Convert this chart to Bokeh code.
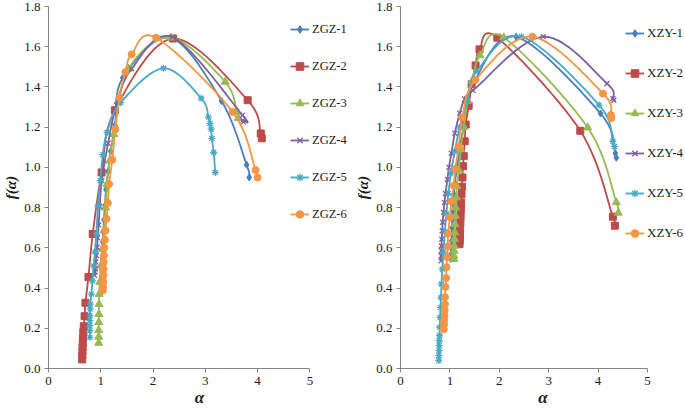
import numpy as np
from bokeh.plotting import figure
from bokeh.layouts import row
from bokeh.models import Range1d, FixedTicker, NumeralTickFormatter, Legend, LegendItem
from bokeh.embed import file_html
from bokeh.resources import INLINE

# ---------------- data ----------------
zgz_labels = ["ZGZ-1", "ZGZ-2", "ZGZ-3", "ZGZ-4", "ZGZ-5", "ZGZ-6"]
zgz1_a = [1.02, 1.022, 1.025, 1.03, 1.035, 1.04, 1.05, 1.06, 1.08, 1.10, 1.14, 1.19, 1.27, 1.42, 2.33, 3.31, 3.79, 3.84]
zgz1_f = [0.46, 0.49, 0.52, 0.55, 0.59, 0.63, 0.68, 0.74, 0.81, 0.89, 0.98, 1.08, 1.21, 1.445, 1.645, 1.33, 1.013, 0.95]
zgz2_a = [0.645, 0.647, 0.649, 0.652, 0.655, 0.66, 0.665, 0.675, 0.69, 0.707, 0.764, 0.846, 1.016, 1.27, 2.38, 3.81, 4.06, 4.08]
zgz2_f = [0.045, 0.065, 0.085, 0.105, 0.125, 0.15, 0.18, 0.21, 0.26, 0.327, 0.455, 0.669, 0.975, 1.284, 1.641, 1.334, 1.169, 1.145]
zgz3_a = [0.96, 0.96, 0.961, 0.962, 0.964, 0.966, 0.97, 0.98, 1.0, 1.03, 1.06, 1.09, 1.12, 1.17, 1.25, 1.53, 2.35, 3.38, 3.60, 3.63]
zgz3_f = [0.127, 0.157, 0.19, 0.23, 0.27, 0.32, 0.37, 0.43, 0.51, 0.595, 0.686, 0.80, 0.917, 1.033, 1.165, 1.49, 1.645, 1.425, 1.276, 1.245]
zgz4_a = [0.884, 0.89, 0.896, 0.905, 0.915, 0.93, 0.94, 0.96, 0.98, 1.02, 1.14, 1.30, 1.59, 2.37, 3.71, 3.72, 3.73]
zgz4_f = [0.463, 0.48, 0.496, 0.53, 0.562, 0.603, 0.65, 0.714, 0.807, 0.934, 1.12, 1.31, 1.49, 1.648, 1.26, 1.235, 1.225]
zgz5_a = [0.79, 0.79, 0.791, 0.792, 0.794, 0.797, 0.80, 0.82, 0.84, 0.865, 0.89, 0.915, 0.947, 0.99, 1.04, 1.12, 1.38, 2.20, 2.92, 3.06, 3.09, 3.11, 3.125, 3.16, 3.19]
zgz5_f = [0.155, 0.188, 0.213, 0.238, 0.263, 0.296, 0.32, 0.37, 0.436, 0.51, 0.58, 0.668, 0.808, 0.934, 1.063, 1.174, 1.322, 1.493, 1.344, 1.25, 1.218, 1.19, 1.144, 1.074, 0.975]
zgz6_a = [1.04, 1.042, 1.048, 1.054, 1.055, 1.056, 1.06, 1.067, 1.08, 1.09, 1.11, 1.136, 1.16, 1.22, 1.28, 1.357, 1.47, 1.59, 2.06, 3.52, 3.96, 4.0]
zgz6_f = [0.388, 0.405, 0.43, 0.463, 0.496, 0.529, 0.562, 0.6, 0.64, 0.686, 0.744, 0.823, 0.917, 1.038, 1.19, 1.347, 1.474, 1.562, 1.645, 1.276, 0.987, 0.95]

xzy_labels = ["XZY-1", "XZY-2", "XZY-3", "XZY-4", "XZY-5", "XZY-6"]
xzy1_a = [1.02, 1.025, 1.03, 1.035, 1.04, 1.045, 1.05, 1.06, 1.07, 1.08, 1.10, 1.15, 1.22, 1.32, 1.5, 2.34, 4.05, 4.35, 4.37]
xzy1_f = [0.544, 0.569, 0.601, 0.635, 0.668, 0.70, 0.742, 0.783, 0.825, 0.866, 0.92, 1.008, 1.12, 1.26, 1.43, 1.65, 1.268, 1.07, 1.048]
xzy2_a = [1.195, 1.197, 1.20, 1.203, 1.207, 1.212, 1.217, 1.222, 1.228, 1.235, 1.245, 1.255, 1.265, 1.28, 1.30, 1.32, 1.38, 1.44, 1.52, 1.60, 1.96, 3.64, 4.30, 4.34]
xzy2_f = [0.618, 0.635, 0.651, 0.668, 0.693, 0.725, 0.758, 0.792, 0.825, 0.866, 0.904, 0.95, 1.006, 1.056, 1.13, 1.213, 1.306, 1.413, 1.507, 1.587, 1.645, 1.182, 0.755, 0.71]
xzy3_a = [1.08, 1.082, 1.085, 1.088, 1.092, 1.097, 1.103, 1.11, 1.118, 1.128, 1.14, 1.18, 1.22, 1.28, 1.36, 1.45, 1.61, 2.09, 3.79, 4.37, 4.41]
xzy3_f = [0.544, 0.56, 0.585, 0.61, 0.643, 0.676, 0.717, 0.759, 0.80, 0.85, 0.907, 0.987, 1.09, 1.2, 1.33, 1.43, 1.557, 1.646, 1.198, 0.826, 0.774]
xzy4_a = [0.82, 0.822, 0.825, 0.83, 0.835, 0.845, 0.855, 0.87, 0.89, 0.91, 0.95, 0.98, 1.03, 1.1, 1.2, 1.3, 1.47, 2.89, 4.18, 4.30, 4.32]
xzy4_f = [0.535, 0.56, 0.585, 0.61, 0.643, 0.685, 0.727, 0.776, 0.825, 0.87, 0.94, 1.0, 1.07, 1.17, 1.27, 1.34, 1.383, 1.65, 1.417, 1.342, 1.334]
xzy5_a = [0.775, 0.777, 0.78, 0.783, 0.786, 0.79, 0.795, 0.80, 0.81, 0.82, 0.83, 0.845, 0.87, 0.9, 0.93, 0.97, 1.02, 1.1, 1.2, 1.35, 1.55, 2.45, 4.02, 4.30, 4.33]
xzy5_f = [0.04, 0.064, 0.089, 0.114, 0.139, 0.164, 0.205, 0.254, 0.304, 0.353, 0.42, 0.494, 0.58, 0.68, 0.77, 0.87, 0.97, 1.08, 1.2, 1.33, 1.48, 1.65, 1.31, 1.13, 1.104]
xzy6_a = [0.877, 0.88, 0.885, 0.89, 0.895, 0.90, 0.90, 0.91, 0.924, 0.93, 0.945, 0.958, 0.965, 1.0, 1.03, 1.08, 1.11, 1.18, 1.25, 1.52, 2.67, 4.10, 4.26, 4.27]
xzy6_f = [0.195, 0.22, 0.24, 0.264, 0.29, 0.32, 0.355, 0.405, 0.45, 0.504, 0.554, 0.607, 0.67, 0.752, 0.83, 0.909, 0.992, 1.104, 1.248, 1.435, 1.65, 1.367, 1.26, 1.245]

x_ticks = [0, 1, 2, 3, 4, 5]
y_ticks = [0.0, 0.2, 0.4, 0.6, 0.8, 1.0, 1.2, 1.4, 1.6, 1.8]

# ---------------- style ----------------
COLORS = ["#4A7EBB", "#BE4B48", "#98B954", "#7D60A0", "#46AAC5", "#F69544"]
MARKERS = ["diamond", "square", "triangle", "x", "asterisk", "circle"]
MSIZES = [7, 7, 8, 7, 7, 7]
FONT = "Liberation Serif"
AXIS_COLOR = "#868686"


def smooth(xs, ys, n=14):
    """Excel-like smoothed line path (Catmull-Rom / cubic Bezier) through the data points."""
    P = np.column_stack([xs, ys]).astype(float)
    m = len(P)
    out = [P[0]]
    t = np.linspace(0, 1, n + 1)[1:, None]
    for i in range(m - 1):
        p0 = P[i - 1] if i > 0 else P[i]
        p1, p2 = P[i], P[i + 1]
        p3 = P[i + 2] if i + 2 < m else P[i + 1]
        c1 = p1 + (p2 - p0) / 6.0
        c2 = p2 - (p3 - p1) / 6.0
        seg = ((1 - t) ** 3) * p1 + 3 * ((1 - t) ** 2) * t * c1 + 3 * (1 - t) * t * t * c2 + (t ** 3) * p2
        out.extend(seg)
    out = np.array(out)
    return out[:, 0], out[:, 1]


def make_panel(series, labels, width, border_left, x_end, legend_loc, legend_spacing, legend_font):
    p = figure(width=width, height=409, output_backend="svg", toolbar_location=None,
               x_range=Range1d(0, x_end), y_range=Range1d(0, 1.8),
               min_border_left=border_left, min_border_right=0,
               min_border_top=6, min_border_bottom=41)
    p.outline_line_color = None
    p.grid.visible = False
    p.background_fill_color = "white"
    p.border_fill_color = "white"

    for ax in (p.xaxis[0], p.yaxis[0]):
        ax.axis_line_color = AXIS_COLOR
        ax.major_tick_line_color = AXIS_COLOR
        ax.minor_tick_line_color = None
        ax.major_tick_out = 4
        ax.major_tick_in = 0
        ax.major_label_text_font = FONT
        ax.major_label_text_font_size = "13px"
        ax.major_label_text_color = "#1a1a1a"
        ax.axis_label_text_font = FONT
        ax.axis_label_text_font_style = "bold italic"
        ax.axis_label_text_color = "#1a1a1a"

    p.xaxis.bounds = (0, 5)
    p.xaxis.ticker = FixedTicker(ticks=x_ticks)
    p.yaxis.ticker = FixedTicker(ticks=y_ticks)
    p.yaxis.formatter = NumeralTickFormatter(format="0.0")
    p.xaxis.axis_label = "α"
    p.xaxis.axis_label_text_font_size = "17px"
    p.xaxis.axis_label_standoff = 0
    p.xaxis.major_label_standoff = 4
    p.yaxis.axis_label = "f(α)"
    p.yaxis.axis_label_text_font_size = "15px"
    p.yaxis.axis_label_standoff = 2
    p.yaxis.major_label_standoff = 4

    items = []
    for k, ((xa, fa), lab) in enumerate(zip(series, labels)):
        sx, sy = smooth(xa, fa)
        lr = p.line(sx, sy, line_color=COLORS[k], line_width=1.8)
        sr = p.scatter(xa, fa, marker=MARKERS[k], size=MSIZES[k], fill_color=COLORS[k],
                       line_color=COLORS[k], line_width=1.3 if MARKERS[k] in ("x", "asterisk") else 1)
        items.append(LegendItem(label=lab, renderers=[lr, sr]))

    leg = Legend(items=items, location=legend_loc, orientation="vertical",
                 padding=0, margin=0, spacing=legend_spacing,
                 glyph_width=19, glyph_height=20, label_height=20, label_standoff=3,
                 label_text_font=FONT, label_text_font_size=legend_font, label_text_color="#1a1a1a",
                 border_line_color=None, background_fill_alpha=0)
    p.add_layout(leg, "center")
    return p


# left panel: canvas 0..350, frame from x=45 -> 305 px at 52.8 px/unit
left = make_panel(
    [(zgz1_a, zgz1_f), (zgz2_a, zgz2_f), (zgz3_a, zgz3_f),
     (zgz4_a, zgz4_f), (zgz5_a, zgz5_f), (zgz6_a, zgz6_f)],
    zgz_labels, width=350, border_left=45, x_end=5.777,
    legend_loc=(242, 144), legend_spacing=17, legend_font="12.5px")

# right panel: canvas 350..685, frame from x=400 -> 285 px at 49.4 px/unit
right = make_panel(
    [(xzy1_a, xzy1_f), (xzy2_a, xzy2_f), (xzy3_a, xzy3_f),
     (xzy4_a, xzy4_f), (xzy5_a, xzy5_f), (xzy6_a, xzy6_f)],
    xzy_labels, width=335, border_left=50, x_end=5.77,
    legend_loc=(225, 125), legend_spacing=20, legend_font="13px")

layout = row(left, right)
open("out.html", "w").write(file_html(layout, INLINE))
